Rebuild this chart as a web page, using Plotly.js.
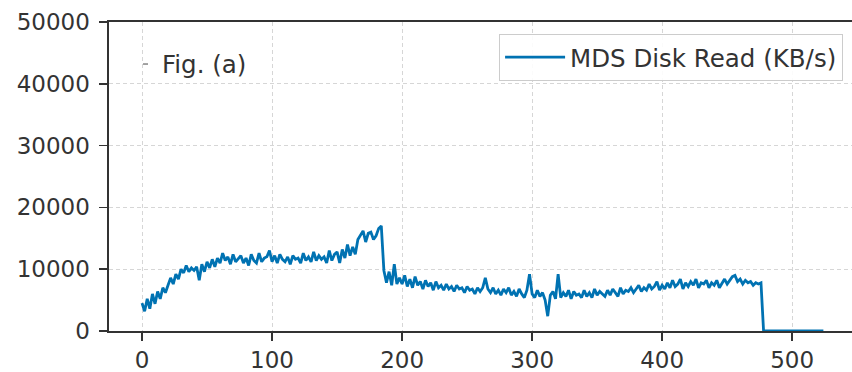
<!DOCTYPE html>
<html>
<head>
<meta charset="utf-8">
<script src="https://cdn.plot.ly/plotly-3.0.1.min.js"></script>
<style>
  html, body { margin: 0; padding: 0; background: #ffffff; overflow: hidden; }
  #chart { width: 852px; height: 372px; }
</style>
</head>
<body>
<div id="chart"></div>
<script>
// Sample interval (s) and MDS disk read throughput (KB/s)
const timeStart = 0;
const timeStep = 2;
const diskRead = [
  // 0 - 18
  4500, 3200, 5200, 3600, 6000, 4400, 6400, 5200, 7000, 6200,
  // 20 - 38
  7400, 8600, 7600, 9200, 8400, 10000, 9400, 10600, 9600, 10200,
  // 40 - 58
  9800, 10400, 8200, 10800, 9600, 11200, 10200, 11600, 10400, 11800,
  // 60 - 78
  11000, 12600, 11400, 12000, 10800, 12400, 11200, 11800, 12200, 11000,
  // 80 - 98
  11800, 10600, 12400, 11400, 11000, 12600, 11200, 11800, 12000, 13000,
  // 100 - 118
  11200, 12200, 11000, 12400, 11600, 11200, 12000, 10800, 12200, 11600,
  // 120 - 138
  11800, 11000, 12600, 11400, 12000, 11200, 12800, 11400, 12200, 11600,
  // 140 - 158
  12000, 11000, 13000, 11400, 12400, 12800, 11000, 13200, 11800, 14000,
  // 160 - 178
  12200, 13600, 12400, 14800, 15600, 16200, 14400, 15800, 16000, 14800,
  // 180 - 198
  15400, 16600, 17000, 9800, 7800, 9600, 7400, 10800, 7600, 8600,
  // 200 - 218
  7600, 9000, 7200, 8400, 7000, 8800, 7400, 8000, 6800, 8200,
  // 220 - 238
  7200, 7800, 6600, 8000, 7000, 7400, 6600, 7600, 6800, 7200,
  // 240 - 258
  6400, 7400, 6800, 7000, 6200, 7200, 6600, 6800, 6000, 7000,
  // 260 - 278
  6400, 7000, 8600, 6800, 6200, 7000, 6000, 6600, 5800, 6800,
  // 280 - 298
  6200, 7000, 5800, 6400, 5600, 6800, 6000, 5400, 6600, 9200,
  // 300 - 318
  6000, 5400, 6600, 5600, 6200, 5000, 2400, 5800, 6400, 5200,
  // 320 - 338
  9200, 5400, 6200, 5600, 6600, 5200, 6400, 5800, 6000, 5400,
  // 340 - 358
  6600, 5600, 6200, 5400, 6800, 5800, 6400, 6000, 5600, 6600,
  // 360 - 378
  5800, 6800, 6200, 5600, 7000, 6000, 6600, 6400, 7000, 6200,
  // 380 - 398
  6800, 7400, 6400, 7000, 6600, 7600, 6800, 7200, 8000, 6600,
  // 400 - 418
  7400, 6800, 7800, 7000, 8200, 7200, 7600, 8400, 6800, 7800,
  // 420 - 438
  7200, 8000, 7400, 8400, 7000, 7800, 7600, 8200, 7000, 7800,
  // 440 - 458
  7400, 8200, 7000, 7800, 8400, 7600, 8200, 8800, 9000, 8000,
  // 460 - 476
  8400, 7600, 8200, 7800, 8000, 7400, 7800, 7600, 7800,
  // 478 - 524
  0, 0, 0, 0, 0, 0, 0, 0, 0, 0, 0, 0,
  0, 0, 0, 0, 0, 0, 0, 0, 0, 0, 0, 0
];
const timeSec = diskRead.map((_, i) => timeStart + i * timeStep);

const seriesName = 'MDS Disk Read (KB/s)';
const panelLabel = 'Fig. (a)';
const xTicks = [0, 100, 200, 300, 400, 500];
const yTicks = [0, 10000, 20000, 30000, 40000, 50000];

const FONT = 'DejaVu Sans, sans-serif';
const INK = '#333333';

const trace = {
  type: 'scatter',
  mode: 'lines',
  x: timeSec,
  y: diskRead,
  name: seriesName,
  line: { color: '#0072B2', width: 2.8 },
  showlegend: true
};

const axisCommon = {
  showline: true,
  linecolor: INK,
  linewidth: 1.6,
  ticks: 'outside',
  ticklen: 8,
  tickwidth: 1.5,
  tickcolor: INK,
  showgrid: true,
  gridcolor: '#d6d6d6',
  gridwidth: 1,
  griddash: '4px,3px',
  zeroline: false,
  tickfont: { family: FONT, size: 23, color: INK }
};

const layout = {
  width: 852,
  height: 372,
  margin: { l: 109, r: 0, t: 22, b: 41, pad: 0 },
  paper_bgcolor: '#ffffff',
  plot_bgcolor: '#ffffff',
  font: { family: FONT, size: 23, color: INK },
  xaxis: Object.assign({}, axisCommon, {
    range: [-25.4, 546],
    tickmode: 'array',
    tickvals: xTicks,
    ticktext: xTicks.map(String),
    mirror: true,
    ticklabelstandoff: 0
  }),
  yaxis: Object.assign({}, axisCommon, {
    range: [0, 50000],
    tickmode: 'array',
    tickvals: yTicks,
    ticktext: yTicks.map(String),
    mirror: false,
    ticklabelstandoff: 5
  }),
  legend: {
    x: 0.988,
    y: 0.962,
    xanchor: 'right',
    yanchor: 'top',
    bgcolor: 'rgba(255,255,255,0.9)',
    bordercolor: '#cccccc',
    borderwidth: 1,
    font: { family: FONT, size: 24.5, color: INK },
    itemwidth: 60
  },
  annotations: [{
    xref: 'paper', yref: 'paper',
    x: 0.0686, y: 0.864,
    xanchor: 'left', yanchor: 'middle',
    text: panelLabel,
    showarrow: false,
    font: { family: FONT, size: 24.5, color: INK }
  }],
  shapes: [{
    type: 'line',
    xref: 'paper', yref: 'paper',
    x0: 0.0458, x1: 0.0525, y0: 0.864, y1: 0.864,
    line: { color: '#666666', width: 1.2 }
  }]
};

Plotly.newPlot('chart', [trace], layout, { displayModeBar: false, staticPlot: true });
</script>
</body>
</html>
